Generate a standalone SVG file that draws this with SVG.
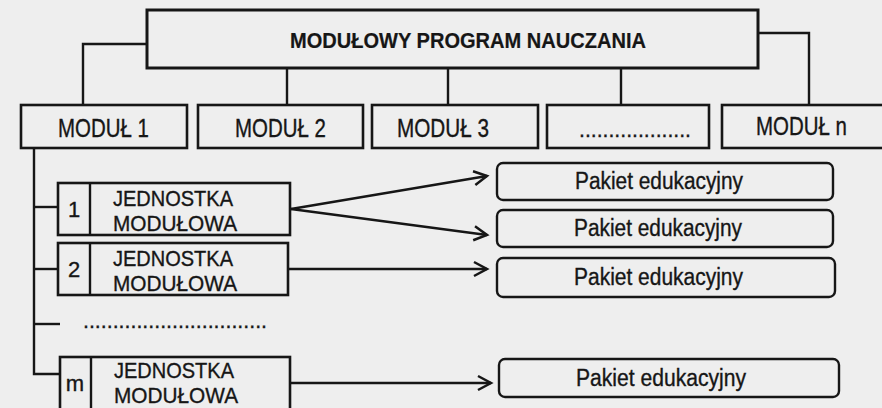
<svg xmlns="http://www.w3.org/2000/svg" width="882" height="408" viewBox="0 0 882 408">
<style>
.bx{fill:none;stroke:#161616;stroke-width:2.6}
.rb{fill:none;stroke:#161616;stroke-width:2.4}
.ln{fill:none;stroke:#161616;stroke-width:2.4}
.t{font-family:"Liberation Sans",Arial,sans-serif;fill:#161616;stroke:#161616;stroke-width:0.35}
.m{font-size:25px}
.u{font-size:22px}
.p{font-size:23px}
</style>
<defs>
<marker id="arr" viewBox="-16 -10 20 20" refX="0" refY="0" markerWidth="20" markerHeight="20" markerUnits="userSpaceOnUse" orient="auto">
<path d="M-13,-7 L0,0 L-13,7" fill="none" stroke="#161616" stroke-width="2.5"/>
</marker>
</defs>
<rect width="882" height="408" fill="#eeeeee"/>
<g id="connectors">
<polyline class="ln" points="147,44 83,44 83,105"/>
<polyline class="ln" points="758,33 809,33 809,105"/>
<line class="ln" x1="287" y1="68" x2="287" y2="105"/>
<line class="ln" x1="448" y1="68" x2="448" y2="105"/>
<line class="ln" x1="621" y1="68" x2="621" y2="105"/>
<polyline class="ln" points="34,148 34,374 60,374"/>
<line class="ln" x1="34" y1="207" x2="58" y2="207"/>
<line class="ln" x1="34" y1="269" x2="58" y2="269"/>
<line class="ln" x1="34" y1="324" x2="60" y2="324"/>
<line class="ln" x1="291" y1="209" x2="487" y2="176" marker-end="url(#arr)"/>
<line class="ln" x1="291" y1="209" x2="487" y2="235" marker-end="url(#arr)"/>
<line class="ln" x1="289" y1="269" x2="487" y2="269" marker-end="url(#arr)"/>
<line class="ln" x1="291" y1="383" x2="491" y2="383" marker-end="url(#arr)"/>
</g>
<g id="program">
<rect class="bx" x="147" y="10" width="611" height="58" style="stroke-width:3"/>
<text class="t" x="290" y="47.5" font-size="22" font-weight="bold" textLength="356" lengthAdjust="spacingAndGlyphs" style="stroke-width:0.2">MODUŁOWY PROGRAM NAUCZANIA</text>
</g>
<g id="modul1">
<rect class="bx" x="21" y="105" width="166" height="43"/>
<text class="t m" x="58" y="136.5" textLength="91" lengthAdjust="spacingAndGlyphs">MODUŁ 1</text>
</g>
<g id="modul2">
<rect class="bx" x="198" y="105" width="165" height="43"/>
<text class="t m" x="235" y="136.5" textLength="91" lengthAdjust="spacingAndGlyphs">MODUŁ 2</text>
</g>
<g id="modul3">
<rect class="bx" x="372" y="105" width="166" height="43"/>
<text class="t m" x="397" y="136.5" textLength="92" lengthAdjust="spacingAndGlyphs">MODUŁ 3</text>
</g>
<g id="modul-dots">
<rect class="bx" x="547" y="105" width="162" height="43"/>
<text class="t u" x="579" y="137" textLength="112" lengthAdjust="spacingAndGlyphs">...................</text>
</g>
<g id="moduln">
<rect class="bx" x="722" y="105" width="164" height="43"/>
<text class="t m" x="756" y="135" textLength="91" lengthAdjust="spacingAndGlyphs">MODUŁ n</text>
</g>
<g id="jednostka1">
<rect class="bx" x="58" y="183" width="232" height="52"/>
<line class="ln" x1="90" y1="183" x2="90" y2="235"/>
<text class="t u" x="74" y="217" text-anchor="middle">1</text>
<text class="t u" x="113" y="205.5" textLength="120" lengthAdjust="spacingAndGlyphs">JEDNOSTKA</text>
<text class="t u" x="113" y="230.5" textLength="124" lengthAdjust="spacingAndGlyphs">MODUŁOWA</text>
</g>
<g id="jednostka2">
<rect class="bx" x="58" y="243" width="230" height="52"/>
<line class="ln" x1="90" y1="243" x2="90" y2="295"/>
<text class="t u" x="74" y="277" text-anchor="middle">2</text>
<text class="t u" x="113" y="265.5" textLength="120" lengthAdjust="spacingAndGlyphs">JEDNOSTKA</text>
<text class="t u" x="113" y="290.5" textLength="124" lengthAdjust="spacingAndGlyphs">MODUŁOWA</text>
</g>
<g id="dots-row">
<text class="t u" x="83" y="328" textLength="184" lengthAdjust="spacingAndGlyphs">...............................</text>
</g>
<g id="jednostkam">
<rect class="bx" x="60" y="357" width="230" height="56"/>
<line class="ln" x1="91" y1="357" x2="91" y2="413"/>
<text class="t u" x="75" y="391" text-anchor="middle">m</text>
<text class="t u" x="114" y="378" textLength="120" lengthAdjust="spacingAndGlyphs">JEDNOSTKA</text>
<text class="t u" x="114" y="403" textLength="124" lengthAdjust="spacingAndGlyphs">MODUŁOWA</text>
</g>
<g id="pakiet1">
<rect class="rb" x="497" y="163" width="336" height="37" rx="6"/>
<text class="t p" x="575" y="188.5" textLength="168" lengthAdjust="spacingAndGlyphs">Pakiet edukacyjny</text>
</g>
<g id="pakiet2">
<rect class="rb" x="497" y="210" width="336" height="37" rx="6"/>
<text class="t p" x="574" y="236" textLength="168" lengthAdjust="spacingAndGlyphs">Pakiet edukacyjny</text>
</g>
<g id="pakiet3">
<rect class="rb" x="497" y="258" width="338" height="39" rx="6"/>
<text class="t p" x="574" y="285" textLength="169" lengthAdjust="spacingAndGlyphs">Pakiet edukacyjny</text>
</g>
<g id="pakiet4">
<rect class="rb" x="499" y="359" width="340" height="38" rx="6"/>
<text class="t p" x="576" y="385.5" textLength="170" lengthAdjust="spacingAndGlyphs">Pakiet edukacyjny</text>
</g>
</svg>
